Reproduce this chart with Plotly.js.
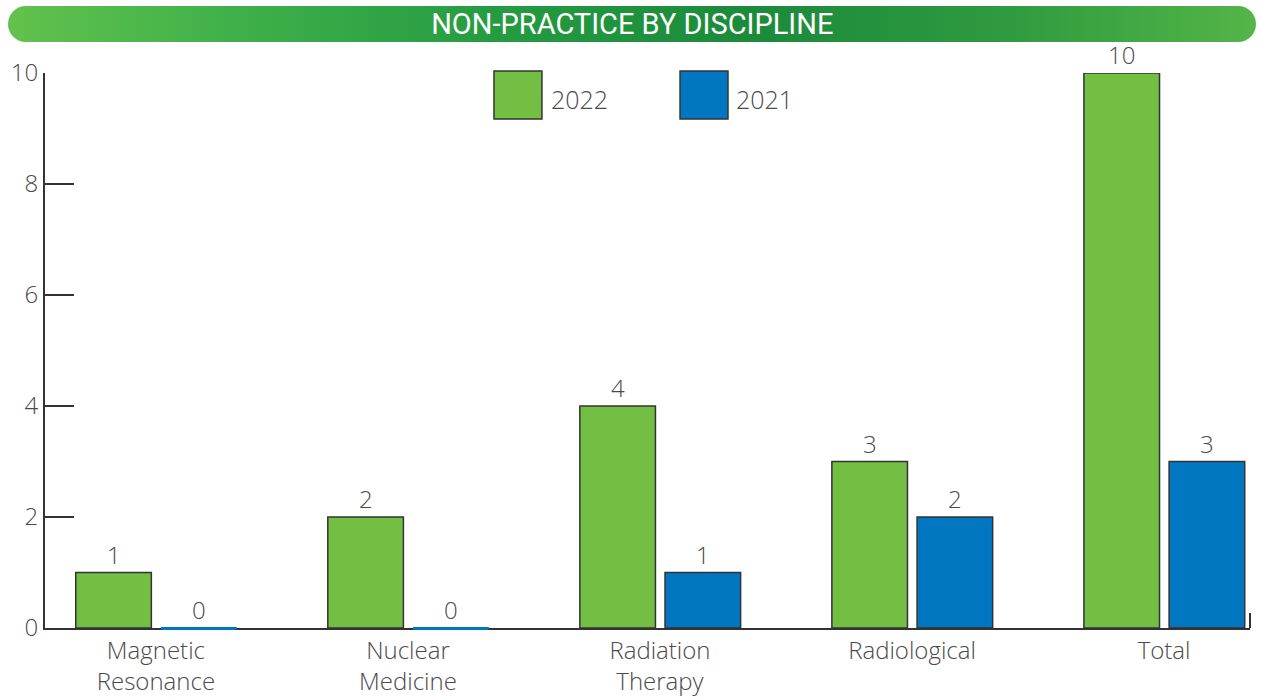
<!DOCTYPE html>
<html>
<head>
<meta charset="utf-8">
<script src="https://cdn.plot.ly/plotly-3.0.1.min.js"></script>
<style>
  html, body { margin: 0; padding: 0; background: #ffffff; }
  #wrap { position: relative; width: 1262px; height: 700px; }
  #banner {
    position: absolute; left: 8px; top: 6px; width: 1248px; height: 36px;
    border-radius: 18px;
    background: linear-gradient(90deg, #62c24c 0%, #3fb04a 18%, #249a41 40%, #1b8a3b 60%, #2f9a3f 80%, #54b548 100%);
  }
  #chart { position: absolute; left: 0; top: 0; width: 1262px; height: 700px; }
</style>
</head>
<body>
<div id="wrap">
  <div id="banner"></div>
  <div id="chart"></div>
</div>
<script>
const categories = ["Magnetic<br>Resonance", "Nuclear<br>Medicine", "Radiation<br>Therapy", "Radiological", "Total"];
const values2022 = [1, 2, 4, 3, 10];
const values2021 = [0, 0, 1, 2, 3];
const seriesNames = ["2022", "2021"];
const yTicks = [0, 2, 4, 6, 8, 10];
const yRange = [0, 10];

const GREEN = "#72bf44";
const BLUE = "#0077c0";
const EDGE = "#333333";
const TXT = "#4a4a4a";
const FONT = "Open Sans, Lato, sans-serif";

const idx = categories.map((_, i) => i);
const barW = 0.3;
const offGreen = -0.318;
const offBlue = 0.02;

const traces = [
  {
    type: "bar", name: seriesNames[0], x: idx, y: values2022,
    width: barW, offset: offGreen,
    marker: { color: GREEN, line: { color: EDGE, width: 1.5 } },
    showlegend: false, hoverinfo: "y"
  },
  {
    type: "bar", name: seriesNames[1], x: idx, y: values2021,
    width: barW, offset: offBlue,
    marker: { color: BLUE, line: { color: EDGE, width: 1.5 } },
    showlegend: false, hoverinfo: "y"
  }
];

const shapes = [];
// zero-valued bars drawn as a thin blue strip over the baseline
values2021.forEach((v, i) => {
  if (v === 0) {
    shapes.push({ type: "rect", xref: "x", yref: "paper", x0: i + offBlue, x1: i + offBlue + barW,
      ysizemode: "pixel", yanchor: (v - yRange[0]) / (yRange[1] - yRange[0]), y0: 1, y1: -2,
      fillcolor: BLUE, line: { width: 0 }, layer: "above" });
  }
});

const annotations = [];
values2022.forEach((v, i) => annotations.push({
  x: i + offGreen + barW / 2, y: v, xref: "x", yref: "y", text: String(v), showarrow: false,
  yanchor: "bottom", yshift: 0, font: { family: FONT, size: 24, color: TXT, weight: 300 }
}));
values2021.forEach((v, i) => annotations.push({
  x: i + offBlue + barW / 2, y: v, xref: "x", yref: "y", text: String(v), showarrow: false,
  yanchor: "bottom", yshift: 0, font: { family: FONT, size: 24, color: TXT, weight: 300 }
}));

// legend (large swatches like the reference)
const legendItems = [
  { name: seriesNames[0], color: GREEN, x0: 0.3726, x1: 0.4124, tx: 0.418 },
  { name: seriesNames[1], color: BLUE, x0: 0.5270, x1: 0.5668, tx: 0.5714 }
];
legendItems.forEach(it => {
  shapes.push({ type: "rect", xref: "paper", yref: "paper", x0: it.x0, x1: it.x1, y0: 0.917, y1: 1.0036,
    fillcolor: it.color, line: { color: EDGE, width: 1.5 } });
  annotations.push({ xref: "paper", yref: "paper", x: it.tx, y: 0.953, xanchor: "left", yanchor: "middle",
    text: it.name, showarrow: false, font: { family: FONT, size: 25, color: TXT, weight: 300 } });
});
// small end tick at the right end of the x axis
shapes.push({ type: "line", xref: "paper", yref: "paper", x0: 1, x1: 1, y0: 0, y1: 0.027,
  line: { color: EDGE, width: 2 } });

const layout = {
  width: 1262, height: 700,
  paper_bgcolor: "rgba(0,0,0,0)", plot_bgcolor: "rgba(0,0,0,0)",
  margin: { l: 45, r: 12, t: 73, b: 72 },
  title: {
    text: "NON-PRACTICE BY DISCIPLINE", x: 0.501, xanchor: "center",
    y: 1 - 24 / 700, yanchor: "middle", yref: "container",
    font: { family: "Roboto, sans-serif", size: 29, color: "#ffffff" }
  },
  xaxis: {
    range: [-0.44, 4.341], tickmode: "array", tickvals: idx, ticktext: categories,
    showgrid: false, zeroline: false, showline: true, linecolor: EDGE, linewidth: 2,
    layer: "below traces",
    ticks: "", tickfont: { family: FONT, size: 24, color: TXT, weight: 300 },
    fixedrange: true
  },
  yaxis: {
    range: yRange, tickmode: "array", tickvals: yTicks,
    showgrid: false, zeroline: false, showline: true, linecolor: EDGE, linewidth: 2,
    ticks: "inside", ticklen: 29, tickwidth: 2, tickcolor: EDGE,
    tickfont: { family: FONT, size: 24, color: TXT, weight: 300 }, fixedrange: true
  },
  shapes: shapes,
  annotations: annotations,
  showlegend: false,
  bargap: 0
};

Plotly.newPlot("chart", traces, layout, { displayModeBar: false, staticPlot: true });
</script>
</body>
</html>
